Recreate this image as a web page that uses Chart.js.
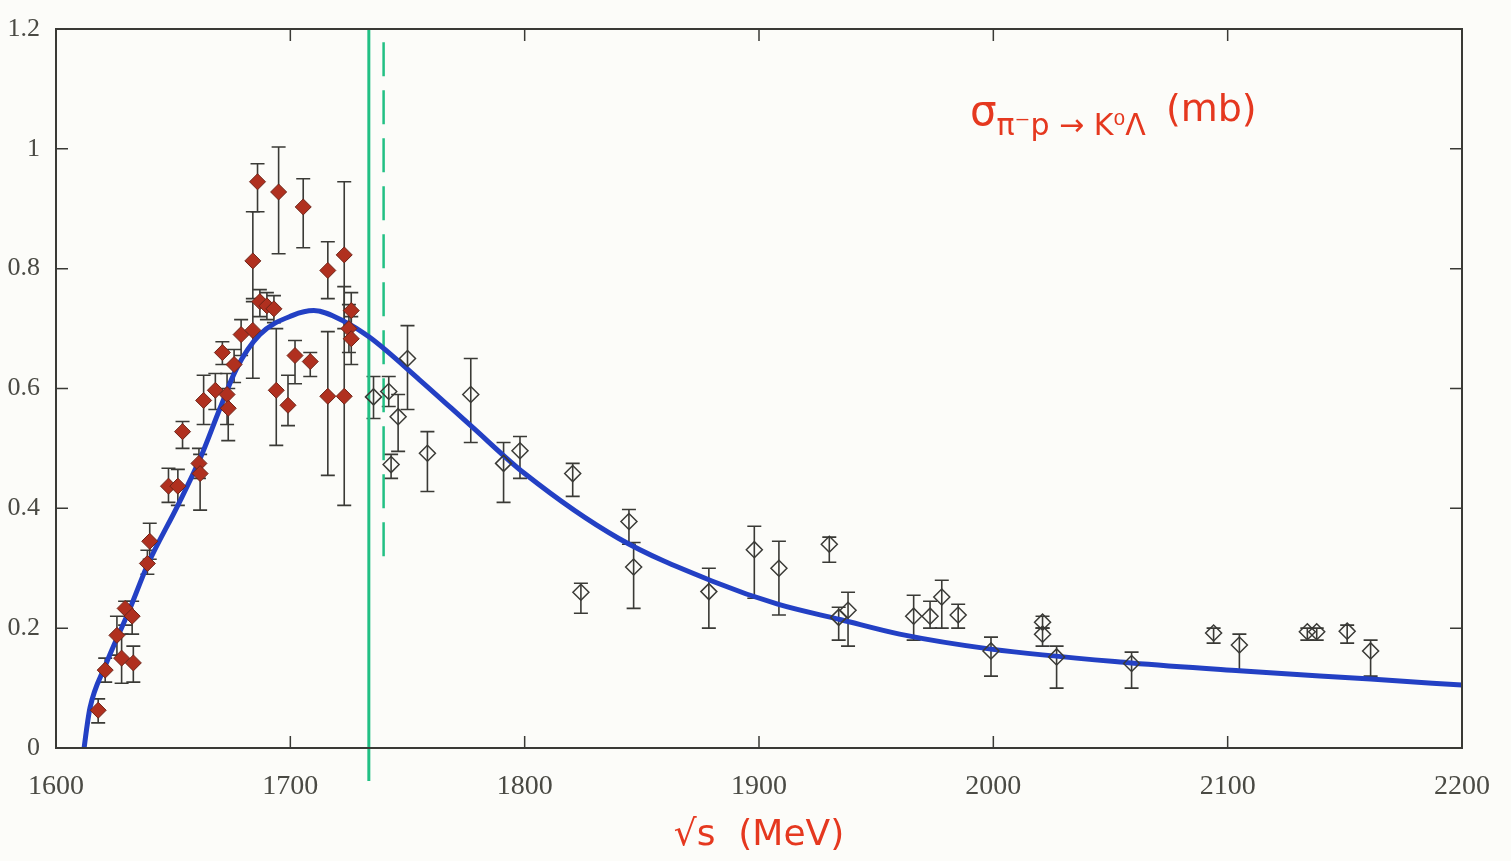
<!DOCTYPE html>
<html>
<head>
<meta charset="utf-8">
<script src="https://cdn.jsdelivr.net/npm/chart.js@4.4.1/dist/chart.umd.min.js"></script>
<style>
  html, body { margin: 0; padding: 0; background: #fcfcf9; }
  #wrap { width: 1511px; height: 861px; }
</style>
</head>
<body>
<div id="wrap"><canvas id="xsec"></canvas></div>
<script>
// filled (red) data points: sqrt(s) in MeV, sigma in mb, error bar ends
const redX  = [1618, 1621, 1626, 1628, 1629.5, 1632.5, 1633, 1639, 1640, 1648, 1652, 1654, 1661, 1661.5, 1663, 1668, 1671, 1673, 1673.5, 1676, 1679, 1684, 1684, 1686, 1687, 1690, 1693, 1694, 1695, 1699, 1702, 1705.5, 1708.5, 1716, 1716, 1723, 1723, 1725, 1726, 1726];
const redY  = [0.063, 0.13, 0.188, 0.15, 0.233, 0.22, 0.142, 0.308, 0.345, 0.437, 0.437, 0.528, 0.475, 0.458, 0.58, 0.597, 0.66, 0.59, 0.567, 0.64, 0.69, 0.697, 0.813, 0.945, 0.745, 0.738, 0.733, 0.597, 0.928, 0.572, 0.655, 0.903, 0.645, 0.587, 0.797, 0.823, 0.587, 0.70, 0.73, 0.683];
const redLo = [0.042, 0.11, 0.155, 0.108, 0.205, 0.19, 0.11, 0.29, 0.315, 0.41, 0.405, 0.50, 0.45, 0.397, 0.54, 0.565, 0.64, 0.54, 0.513, 0.61, 0.655, 0.617, 0.75, 0.895, 0.72, 0.715, 0.71, 0.505, 0.825, 0.538, 0.608, 0.835, 0.62, 0.455, 0.75, 0.70, 0.405, 0.66, 0.70, 0.64];
const redHi = [0.082, 0.15, 0.22, 0.19, 0.245, 0.245, 0.17, 0.33, 0.375, 0.467, 0.465, 0.545, 0.50, 0.49, 0.622, 0.625, 0.678, 0.625, 0.60, 0.665, 0.715, 0.745, 0.895, 0.975, 0.765, 0.76, 0.755, 0.70, 1.003, 0.622, 0.68, 0.95, 0.66, 0.695, 0.845, 0.945, 0.77, 0.74, 0.76, 0.72];

// open diamond data points
const openX  = [1735.5, 1742, 1743, 1746, 1750, 1758.5, 1777, 1791, 1798, 1820.5, 1824, 1844.5, 1846.5, 1878.6, 1898, 1908.5, 1930, 1934, 1938, 1966, 1973, 1978, 1985, 1999, 2021, 2021, 2027, 2059, 2094, 2105, 2134, 2138, 2151, 2161];
const openY  = [0.586, 0.595, 0.473, 0.553, 0.65, 0.492, 0.59, 0.475, 0.496, 0.458, 0.26, 0.378, 0.302, 0.261, 0.331, 0.30, 0.34, 0.218, 0.23, 0.22, 0.22, 0.252, 0.222, 0.162, 0.21, 0.19, 0.152, 0.141, 0.192, 0.172, 0.194, 0.194, 0.195, 0.162];
const openLo = [0.55, 0.57, 0.45, 0.495, 0.565, 0.428, 0.51, 0.41, 0.45, 0.42, 0.225, 0.34, 0.233, 0.20, 0.25, 0.222, 0.31, 0.18, 0.17, 0.18, 0.20, 0.20, 0.20, 0.12, 0.20, 0.17, 0.10, 0.10, 0.175, 0.13, 0.18, 0.18, 0.175, 0.12];
const openHi = [0.62, 0.62, 0.49, 0.59, 0.705, 0.528, 0.65, 0.51, 0.52, 0.475, 0.275, 0.398, 0.343, 0.30, 0.37, 0.345, 0.352, 0.235, 0.26, 0.255, 0.245, 0.28, 0.24, 0.185, 0.22, 0.20, 0.17, 0.16, 0.20, 0.19, 0.20, 0.20, 0.205, 0.18];

// hand drawn fit curve (blue)
const curveX = [1612, 1613, 1614.5, 1621, 1631.6, 1639, 1652, 1661.5, 1670, 1677, 1687, 1701, 1710, 1723, 1734, 1755, 1777, 1800, 1840, 1881, 1908, 1935, 1960, 1999, 2059, 2105, 2161, 2200];
const curveY = [0, 0.03, 0.067, 0.137, 0.233, 0.305, 0.405, 0.483, 0.567, 0.633, 0.69, 0.722, 0.73, 0.712, 0.685, 0.615, 0.538, 0.458, 0.35, 0.277, 0.24, 0.214, 0.19, 0.165, 0.142, 0.129, 0.115, 0.105];

// green threshold marks
const threshX = [1733.5, 1733.5];
const threshY = [-0.055, 1.2];
const dashX = [1739.8, 1739.8];
const dashY = [0.32, 1.2];

const xTicks = [1600, 1700, 1800, 1900, 2000, 2100, 2200];
const yTicks = [0, 0.2, 0.4, 0.6, 0.8, 1, 1.2];

const pts = (xs, ys) => xs.map((x, i) => ({ x: x, y: ys[i] }));

const errorBars = {
  id: 'errorBars',
  beforeDatasetsDraw(chart) {
    const ctx = chart.ctx, xs = chart.scales.x, ys = chart.scales.y;
    ctx.save();
    ctx.strokeStyle = '#3a3a36';
    ctx.lineWidth = 1.6;
    chart.data.datasets.forEach(ds => {
      if (!ds.errLo) return;
      ds.data.forEach((p, i) => {
        const px = xs.getPixelForValue(p.x);
        const y1 = ys.getPixelForValue(ds.errLo[i]);
        const y2 = ys.getPixelForValue(ds.errHi[i]);
        ctx.beginPath();
        ctx.moveTo(px, y1); ctx.lineTo(px, y2);
        ctx.moveTo(px - 7, y1); ctx.lineTo(px + 7, y1);
        ctx.moveTo(px - 7, y2); ctx.lineTo(px + 7, y2);
        ctx.stroke();
      });
    });
    ctx.restore();
  }
};

const frame = {
  id: 'frame',
  afterDraw(chart) {
    const ctx = chart.ctx, a = chart.chartArea;
    const xs = chart.scales.x, ys = chart.scales.y;
    ctx.save();
    ctx.strokeStyle = '#3a3a36';
    ctx.lineWidth = 2;
    ctx.strokeRect(a.left, a.top, a.right - a.left, a.bottom - a.top);
    ctx.lineWidth = 1.5;
    ctx.beginPath();
    xTicks.forEach(v => {
      const px = xs.getPixelForValue(v);
      ctx.moveTo(px, a.bottom); ctx.lineTo(px, a.bottom - 12);
      ctx.moveTo(px, a.top); ctx.lineTo(px, a.top + 12);
    });
    yTicks.forEach(v => {
      const py = ys.getPixelForValue(v);
      ctx.moveTo(a.left, py); ctx.lineTo(a.left + 12, py);
      ctx.moveTo(a.right, py); ctx.lineTo(a.right - 12, py);
    });
    ctx.stroke();

    // handwritten label inside the plot
    const tx = xs.getPixelForValue(1990), ty = ys.getPixelForValue(1.04);
    ctx.fillStyle = '#e5381f';
    ctx.textBaseline = 'alphabetic';
    ctx.font = '42px "DejaVu Sans"';
    ctx.fillText('σ', tx, ty);
    let w = ctx.measureText('σ').width;
    ctx.font = '30px "DejaVu Sans"';
    const sub = 'π⁻p → K⁰Λ';
    ctx.fillText(sub, tx + w, ty + 10);
    w += ctx.measureText(sub).width + 20;
    ctx.font = '38px "DejaVu Sans"';
    ctx.fillText('(mb)', tx + w, ty - 4);
    ctx.restore();
  }
};

new Chart(document.getElementById('xsec'), {
  type: 'scatter',
  data: {
    datasets: [
      {
        label: 'fit',
        data: pts(curveX, curveY),
        showLine: true,
        borderColor: '#2340c4',
        borderWidth: 5,
        pointRadius: 0,
        cubicInterpolationMode: 'monotone',
        order: 3
      },
      {
        label: 'threshold',
        data: pts(threshX, threshY),
        showLine: true,
        borderColor: '#22c084',
        borderWidth: 3,
        pointRadius: 0,
        clip: false,
        order: 4
      },
      {
        label: 'threshold2',
        data: pts(dashX, dashY),
        showLine: true,
        borderColor: '#22c084',
        borderWidth: 2.5,
        borderDash: [34, 14],
        pointRadius: 0,
        order: 4
      },
      {
        label: 'red',
        data: pts(redX, redY),
        errLo: redLo,
        errHi: redHi,
        pointStyle: 'rectRot',
        pointRadius: 8,
        backgroundColor: '#b0301f',
        borderColor: '#6e2418',
        borderWidth: 1,
        order: 1
      },
      {
        label: 'open',
        data: pts(openX, openY),
        errLo: openLo,
        errHi: openHi,
        pointStyle: 'rectRot',
        pointRadius: 8,
        backgroundColor: 'rgba(255,255,255,0)',
        borderColor: '#3a3a36',
        borderWidth: 1.5,
        order: 2
      }
    ]
  },
  options: {
    responsive: true,
    maintainAspectRatio: false,
    animation: false,
    events: [],
    layout: { padding: { left: 0, right: 49, top: 29, bottom: 0 } },
    plugins: {
      legend: { display: false },
      tooltip: { enabled: false }
    },
    scales: {
      x: {
        type: 'linear',
        min: 1600,
        max: 2200,
        afterFit: s => { s.height = 113; },
        afterBuildTicks: s => { s.ticks = xTicks.map(v => ({ value: v })); },
        grid: { display: false },
        border: { display: false },
        ticks: {
          padding: 14,
          color: '#4a4a44',
          font: { family: '"Liberation Serif"', size: 28 },
          callback: v => String(v)
        },
        title: {
          display: true,
          text: '√s  (MeV)',
          color: '#e5381f',
          font: { family: '"DejaVu Sans"', size: 36 },
          padding: { top: 4 }
        }
      },
      y: {
        type: 'linear',
        min: 0,
        max: 1.2,
        afterFit: s => { s.width = 56; },
        afterBuildTicks: s => { s.ticks = yTicks.map(v => ({ value: v })); },
        grid: { display: false },
        border: { display: false },
        ticks: {
          padding: 8,
          color: '#4a4a44',
          font: { family: '"Liberation Serif"', size: 26 },
          callback: v => String(Number(v.toFixed(1)))
        }
      }
    }
  },
  plugins: [errorBars, frame]
});
</script>
</body>
</html>
